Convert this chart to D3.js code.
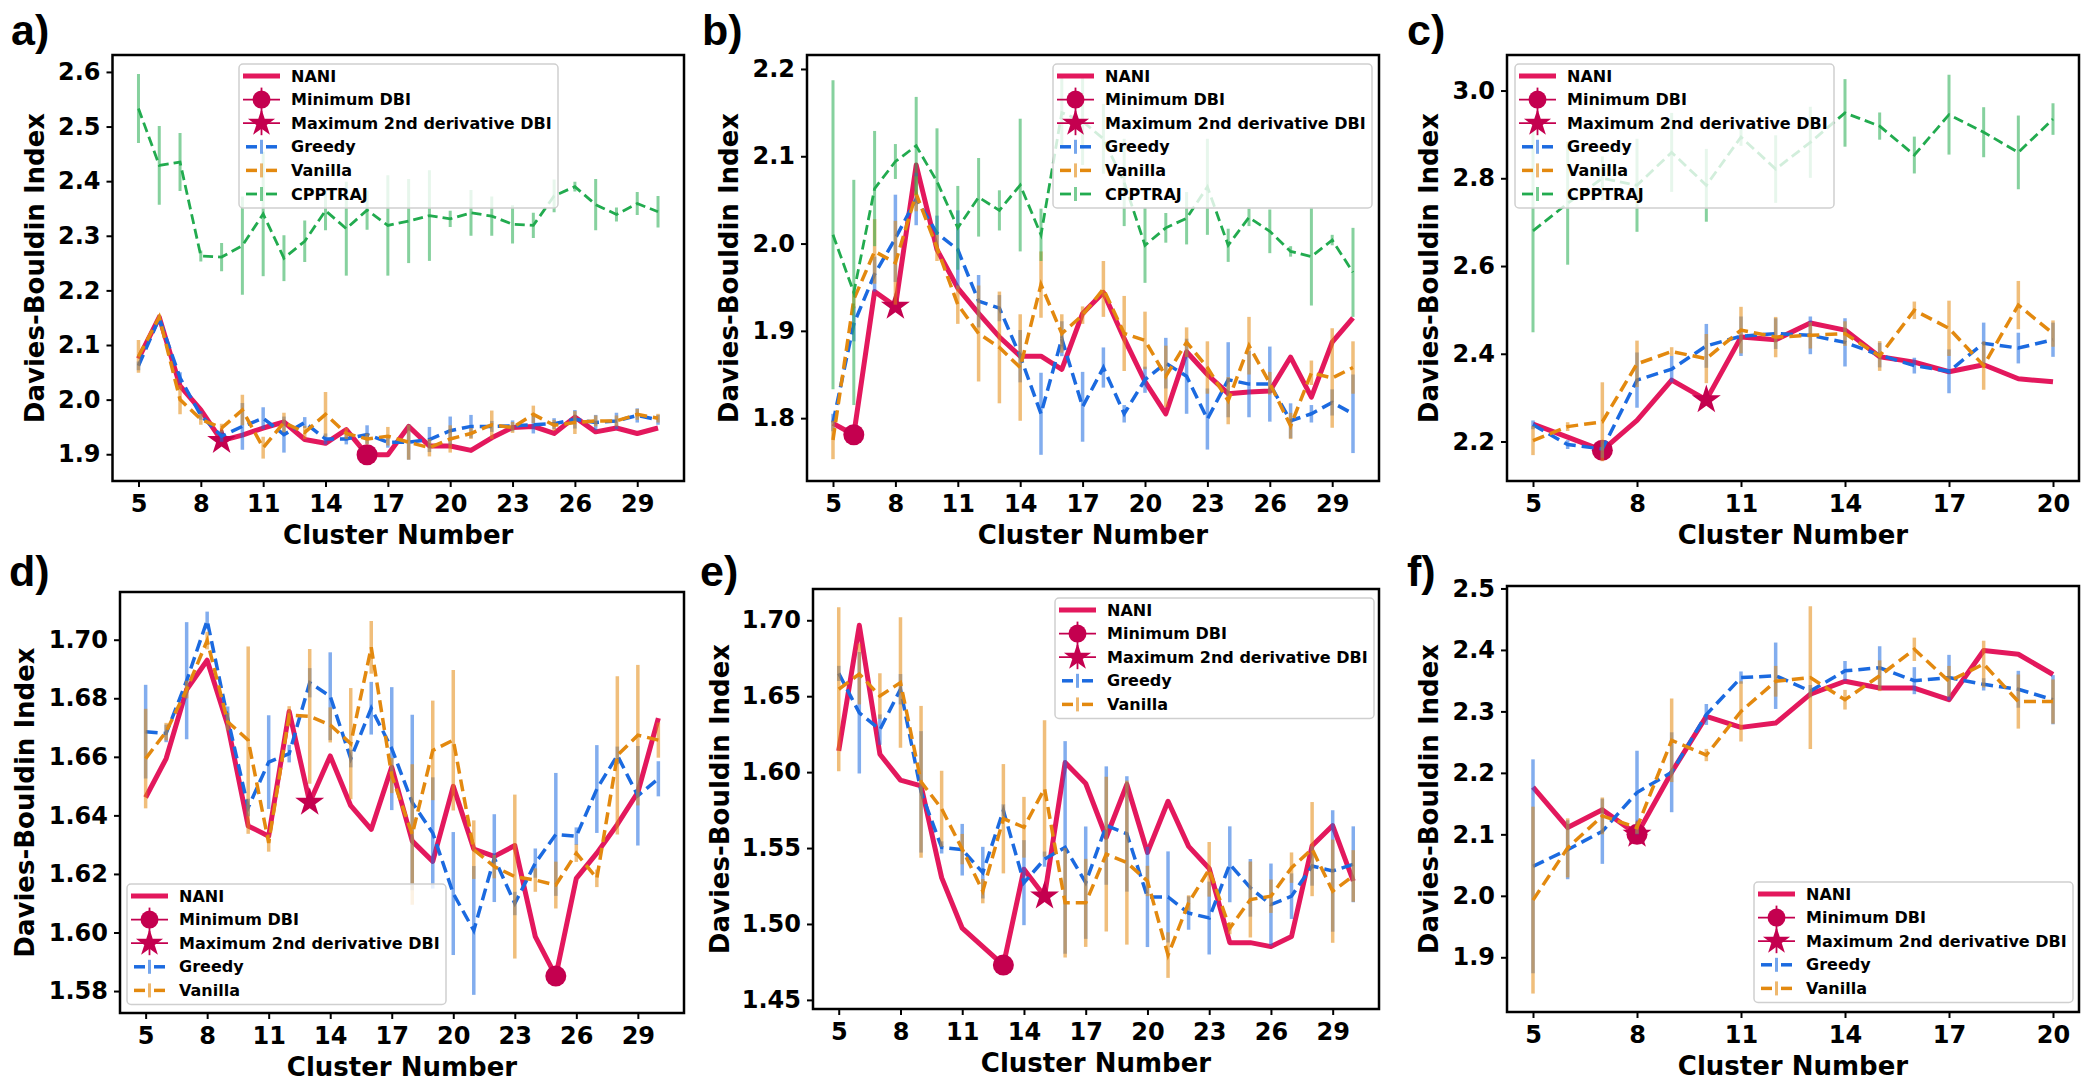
<!DOCTYPE html>
<html><head><meta charset="utf-8">
<script src="https://cdn.jsdelivr.net/npm/d3@7"></script>
<style>body{margin:0;background:#fff}svg{display:block}</style>
</head><body><svg id="chart" width="2100" height="1088"></svg>
<script>
// ---------- categories & tick labels ----------
const clusters30 = [5,6,7,8,9,10,11,12,13,14,15,16,17,18,19,20,21,22,23,24,25,26,27,28,29,30];
const clusters20 = [5,6,7,8,9,10,11,12,13,14,15,16,17,18,19,20];
const xTicks30 = [5,8,11,14,17,20,23,26,29];
const xTicks20 = [5,8,11,14,17,20];
const yTicksA = [1.9,2.0,2.1,2.2,2.3,2.4,2.5,2.6];
const yTicksB = [1.8,1.9,2.0,2.1,2.2];
const yTicksC = [2.2,2.4,2.6,2.8,3.0];
const yTicksD = [1.58,1.60,1.62,1.64,1.66,1.68,1.70];
const yTicksE = [1.45,1.50,1.55,1.60,1.65,1.70];
const yTicksF = [1.9,2.0,2.1,2.2,2.3,2.4,2.5];
const panelLabels = ["a)","b)","c)","d)","e)","f)"];
const seriesNames = ["NANI","Minimum DBI","Maximum 2nd derivative DBI","Greedy","Vanilla","CPPTRAJ"];
const minClusters = [16,6,7,25,13,8];
const starClusters = [9,8,10,13,15,8];

// ---------- panel a ----------
const naniA = [2.075,2.151,2.025,1.981,1.925,1.935,1.948,1.959,1.927,1.920,1.945,1.899,1.899,1.951,1.915,1.915,1.907,1.930,1.949,1.951,1.938,1.968,1.941,1.948,1.938,1.948];
const greedyA = [2.062,2.149,2.040,1.971,1.933,1.951,1.966,1.936,1.958,1.928,1.928,1.936,1.922,1.922,1.927,1.943,1.951,1.951,1.952,1.954,1.956,1.964,1.958,1.961,1.971,1.963];
const greedyErrA = [0.008,0.005,0.010,0.008,0.010,0.043,0.020,0.033,0.010,0.010,0.010,0.017,0.010,0.032,0.023,0.026,0.021,0.010,0.010,0.016,0.010,0.017,0.014,0.015,0.013,0.009];
const vanillaA = [2.079,2.151,2.000,1.964,1.948,1.981,1.912,1.958,1.940,1.973,1.938,1.928,1.933,1.922,1.912,1.928,1.938,1.954,1.949,1.973,1.953,1.958,1.961,1.961,1.973,1.966];
const vanillaErrA = [0.030,0.005,0.027,0.010,0.008,0.028,0.020,0.018,0.012,0.041,0.010,0.010,0.017,0.032,0.016,0.025,0.010,0.026,0.010,0.016,0.010,0.021,0.010,0.010,0.010,0.008];
const cppA = [2.533,2.429,2.435,2.263,2.261,2.282,2.340,2.259,2.290,2.346,2.313,2.347,2.319,2.327,2.337,2.331,2.342,2.336,2.321,2.319,2.373,2.390,2.357,2.339,2.359,2.344];
const cppErrA = [0.063,0.072,0.053,0.010,0.026,0.090,0.114,0.042,0.038,0.036,0.086,0.036,0.092,0.077,0.083,0.015,0.042,0.036,0.035,0.023,0.030,0.009,0.047,0.013,0.021,0.029];

// ---------- panel b ----------
const naniB = [1.794,1.781,1.945,1.928,2.090,1.993,1.949,1.920,1.893,1.871,1.871,1.856,1.920,1.944,1.891,1.842,1.805,1.876,1.850,1.828,1.830,1.831,1.870,1.824,1.887,1.915];
const greedyB = [1.795,1.908,1.965,2.006,2.051,2.012,1.993,1.934,1.926,1.871,1.805,1.891,1.813,1.858,1.805,1.844,1.863,1.848,1.799,1.844,1.839,1.839,1.797,1.805,1.818,1.805];
const greedyErrB = [0.010,0.020,0.020,0.050,0.030,0.020,0.045,0.030,0.015,0.030,0.047,0.020,0.040,0.023,0.010,0.015,0.029,0.043,0.035,0.043,0.038,0.043,0.020,0.010,0.015,0.045];
const vanillaB = [1.775,1.936,1.991,1.978,2.057,1.995,1.930,1.897,1.881,1.858,1.953,1.897,1.918,1.948,1.897,1.889,1.848,1.887,1.858,1.820,1.883,1.840,1.791,1.852,1.846,1.858];
const vanillaErrB = [0.022,0.010,0.037,0.048,0.020,0.015,0.022,0.055,0.064,0.061,0.038,0.022,0.010,0.032,0.043,0.033,0.035,0.017,0.030,0.027,0.033,0.013,0.015,0.014,0.057,0.030];
const cppB = [2.010,1.944,2.063,2.094,2.112,2.071,2.018,2.053,2.038,2.067,2.010,2.150,2.140,2.120,2.070,1.998,2.018,2.029,2.065,1.998,2.030,2.014,1.991,1.985,2.004,1.967];
const cppErrB = [0.177,0.129,0.066,0.020,0.056,0.061,0.048,0.045,0.023,0.076,0.030,0.040,0.050,0.040,0.050,0.043,0.017,0.030,0.055,0.019,0.010,0.025,0.006,0.056,0.006,0.051];

// ---------- panel c ----------
const naniC = [2.240,2.210,2.180,2.248,2.340,2.295,2.438,2.432,2.470,2.454,2.393,2.381,2.359,2.375,2.343,2.336];
const greedyC = [2.238,2.193,2.183,2.340,2.365,2.418,2.440,2.446,2.442,2.426,2.397,2.373,2.360,2.424,2.413,2.432];
const greedyErrC = [0.010,0.010,0.020,0.063,0.030,0.050,0.045,0.035,0.043,0.055,0.028,0.018,0.050,0.047,0.035,0.039];
const vanillaC = [2.202,2.234,2.245,2.377,2.405,2.389,2.454,2.438,2.442,2.446,2.395,2.499,2.458,2.373,2.511,2.446];
const vanillaErrC = [0.033,0.010,0.090,0.053,0.010,0.056,0.053,0.046,0.030,0.028,0.034,0.020,0.063,0.055,0.055,0.030];
const cppC = [2.680,2.743,2.800,2.784,2.859,2.784,2.894,2.821,2.882,2.949,2.919,2.853,2.945,2.905,2.859,2.935];
const cppErrC = [0.231,0.140,0.050,0.106,0.090,0.083,0.020,0.077,0.081,0.077,0.031,0.042,0.091,0.057,0.084,0.036];

// ---------- panel d ----------
const naniD = [1.6461,1.6594,1.6830,1.6930,1.6709,1.6364,1.6329,1.6755,1.6444,1.6603,1.6433,1.6352,1.6565,1.6312,1.6243,1.6499,1.6285,1.6260,1.6297,1.5986,1.5851,1.6185,1.6271,1.6369,1.6479,1.6732];
const greedyD = [1.6686,1.6680,1.6860,1.7066,1.6732,1.6427,1.6582,1.6611,1.6853,1.6807,1.6594,1.6766,1.6628,1.6444,1.6340,1.6133,1.6007,1.6254,1.6099,1.6237,1.6335,1.6329,1.6490,1.6605,1.6467,1.6525];
const greedyErrD = [0.016,0.003,0.020,0.003,0.004,0.003,0.016,0.003,0.005,0.015,0.003,0.009,0.021,0.030,0.019,0.021,0.022,0.015,0.004,0.005,0.021,0.003,0.015,0.003,0.017,0.006];
const vanillaD = [1.6594,1.6686,1.6830,1.6997,1.6720,1.6657,1.6306,1.6743,1.6738,1.6709,1.6645,1.6974,1.6536,1.6335,1.6622,1.6657,1.6283,1.6225,1.6191,1.6179,1.6162,1.6271,1.6185,1.6605,1.6674,1.6657];
const vanillaErrD = [0.017,0.003,0.003,0.003,0.003,0.032,0.003,0.003,0.023,0.006,0.019,0.009,0.006,0.024,0.017,0.024,0.010,0.004,0.028,0.004,0.008,0.003,0.003,0.027,0.024,0.006];

// ---------- panel e ----------
const naniE = [1.6140,1.6967,1.6118,1.5947,1.5910,1.5305,1.4972,1.4851,1.4729,1.5360,1.5183,1.6063,1.5925,1.5571,1.5919,1.5471,1.5808,1.5511,1.5365,1.4877,1.4877,1.4851,1.4917,1.5515,1.5648,1.5283];
const greedyE = [1.6650,1.6391,1.6280,1.6546,1.5870,1.5504,1.5489,1.5338,1.5748,1.5272,1.5427,1.5504,1.5272,1.5648,1.5593,1.5178,1.5178,1.5072,1.5039,1.5393,1.5238,1.5128,1.5183,1.5382,1.5349,1.5393];
const greedyErrE = [0.005,0.040,0.010,0.010,0.040,0.004,0.017,0.017,0.004,0.028,0.005,0.070,0.037,0.039,0.038,0.033,0.030,0.011,0.024,0.025,0.019,0.027,0.015,0.013,0.040,0.025];
const vanillaE = [1.6546,1.6646,1.6501,1.6590,1.5936,1.5759,1.5493,1.5216,1.5693,1.5637,1.5892,1.5139,1.5139,1.5460,1.5404,1.5283,1.4795,1.5139,1.5360,1.4972,1.5161,1.5183,1.5371,1.5493,1.5216,1.5316];
const vanillaErrE = [0.054,0.020,0.015,0.043,0.050,0.025,0.010,0.008,0.036,0.020,0.045,0.036,0.029,0.051,0.054,0.010,0.015,0.005,0.018,0.004,0.025,0.011,0.010,0.031,0.034,0.017];

// ---------- panel f ----------
const naniF = [2.177,2.111,2.140,2.100,2.201,2.292,2.274,2.281,2.328,2.349,2.338,2.338,2.319,2.399,2.393,2.360];
const greedyF = [2.048,2.075,2.105,2.168,2.201,2.295,2.355,2.358,2.333,2.366,2.371,2.350,2.355,2.344,2.336,2.319];
const greedyErrF = [0.174,0.048,0.053,0.068,0.065,0.017,0.010,0.054,0.010,0.016,0.035,0.022,0.037,0.010,0.030,0.040];
const vanillaF = [1.993,2.078,2.130,2.111,2.253,2.229,2.300,2.349,2.355,2.319,2.358,2.401,2.349,2.377,2.316,2.316];
const vanillaErrF = [0.152,0.048,0.030,0.010,0.068,0.010,0.049,0.025,0.116,0.016,0.025,0.019,0.025,0.038,0.044,0.036];

// ---------- styles ----------
const C_NANI = "#e3185d", C_MARK = "#c4004f", C_GREEDY = "#1b6ae0", C_VAN = "#e3890f", C_CPP = "#22ab4f";
const FONT = "'DejaVu Sans', sans-serif";

// ---------- panel layout (built from the arrays above) ----------
const panels = [
  {label:panelLabels[0], xs:clusters30, xt:xTicks30, xDom:[3.75,31.25], yt:yTicksA, fmt:".1f", yDom:[1.851,2.631],
   nani:naniA, greedy:greedyA, gErr:greedyErrA, van:vanillaA, vErr:vanillaErrA, cpp:cppA, cErr:cppErrA,
   frame:[112.5,55,684,481], leg:[239,64], lab:[11,45], ytOff:78},
  {label:panelLabels[1], xs:clusters30, xt:xTicks30, xDom:[3.75,31.25], yt:yTicksB, fmt:".1f", yDom:[1.728,2.216],
   nani:naniB, greedy:greedyB, gErr:greedyErrB, van:vanillaB, vErr:vanillaErrB, cpp:cppB, cErr:cppErrB,
   frame:[807,55,1379,481], leg:[1053,64], lab:[702,45], ytOff:78},
  {label:panelLabels[2], xs:clusters20, xt:xTicks20, xDom:[4.25,20.75], yt:yTicksC, fmt:".1f", yDom:[2.110,3.081],
   nani:naniC, greedy:greedyC, gErr:greedyErrC, van:vanillaC, vErr:vanillaErrC, cpp:cppC, cErr:cppErrC,
   frame:[1507,55,2079,481], leg:[1515,64], lab:[1407,45], ytOff:78},
  {label:panelLabels[3], xs:clusters30, xt:xTicks30, xDom:[3.75,31.25], yt:yTicksD, fmt:".2f", yDom:[1.5725,1.7163],
   nani:naniD, greedy:greedyD, gErr:greedyErrD, van:vanillaD, vErr:vanillaErrD, cpp:null, cErr:null,
   frame:[120,592,684,1013], leg:[127,884], lab:[9,586], ytOff:95},
  {label:panelLabels[4], xs:clusters30, xt:xTicks30, xDom:[3.75,31.25], yt:yTicksE, fmt:".2f", yDom:[1.444,1.7206],
   nani:naniE, greedy:greedyE, gErr:greedyErrE, van:vanillaE, vErr:vanillaErrE, cpp:null, cErr:null,
   frame:[813,589,1379,1009], leg:[1055,598], lab:[700,586], ytOff:93},
  {label:panelLabels[5], xs:clusters20, xt:xTicks20, xDom:[4.25,20.75], yt:yTicksF, fmt:".1f", yDom:[1.811,2.504],
   nani:naniF, greedy:greedyF, gErr:greedyErrF, van:vanillaF, vErr:vanillaErrF, cpp:null, cErr:null,
   frame:[1507,586,2079,1012], leg:[1754,882], lab:[1407,586], ytOff:78}
];

const svg = d3.select("#chart");
svg.append("rect").attr("width",2100).attr("height",1088).attr("fill","#fff");

panels.forEach((p, pi) => {
  const [x0,y0,x1,y1] = p.frame;
  const g = svg.append("g");
  const x = d3.scaleLinear().domain(p.xDom).range([x0,x1]);
  const y = d3.scaleLinear().domain(p.yDom).range([y1,y0]);
  const clipId = "clip" + pi;
  g.append("clipPath").attr("id",clipId).append("rect")
    .attr("x",x0).attr("y",y0).attr("width",x1-x0).attr("height",y1-y0);

  // axes
  const ax = g.append("g").attr("transform",`translate(0,${y1})`)
    .call(d3.axisBottom(x).tickValues(p.xt).tickFormat(d3.format("d")).tickSize(6).tickPadding(8));
  const ay = g.append("g").attr("transform",`translate(${x0},0)`)
    .call(d3.axisLeft(y).tickValues(p.yt).tickFormat(d3.format(p.fmt)).tickSize(6).tickPadding(6));
  [ax, ay].forEach(a => {
    a.select(".domain").remove();
    a.selectAll(".tick line").attr("stroke","#000").attr("stroke-width",2);
    a.selectAll(".tick text").attr("font-family",FONT).attr("font-weight","bold")
      .attr("font-size",24).attr("fill","#000");
  });

  // titles
  g.append("text").attr("x",(x0+x1)/2).attr("y",y1+54).attr("dy","0.35em")
    .attr("text-anchor","middle").attr("font-family",FONT).attr("font-weight","bold")
    .attr("font-size",26).text("Cluster Number");
  g.append("text").attr("transform",`translate(${x0-p.ytOff},${(y0+y1)/2}) rotate(-90)`)
    .attr("dy","0.35em").attr("text-anchor","middle").attr("font-family",FONT)
    .attr("font-weight","bold").attr("font-size",26).text("Davies-Bouldin Index");
  g.append("text").attr("x",p.lab[0]).attr("y",p.lab[1]).attr("font-family","'Liberation Sans', Arial, sans-serif")
    .attr("font-weight","bold").attr("font-size",43).text(p.label);

  const plot = g.append("g").attr("clip-path",`url(#${clipId})`);
  const line = d3.line().x(d => x(d[0])).y(d => y(d[1]));

  // NANI
  plot.append("path").datum(p.xs.map((c,i) => [c, p.nani[i]])).attr("d",line)
    .attr("fill","none").attr("stroke",C_NANI).attr("stroke-width",5).attr("stroke-linejoin","round");
  // markers (star first, circle on top)
  const si = p.xs.indexOf(starClusters[pi]);
  plot.append("path").attr("d",d3.symbol().type(d3.symbolStar).size(260)())
    .attr("transform",`translate(${x(starClusters[pi])},${y(p.nani[si])})`).attr("fill",C_MARK);
  const mi = p.xs.indexOf(minClusters[pi]);
  plot.append("circle").attr("cx",x(minClusters[pi])).attr("cy",y(p.nani[mi])).attr("r",10.5).attr("fill",C_MARK);

  function errSeries(vals, errs, color, lw, dash, ew) {
    const pts = p.xs.map((c,i) => ({c, v:vals[i], e:errs[i]}));
    plot.append("g").selectAll("line").data(pts).join("line")
      .attr("x1",d => x(d.c)).attr("x2",d => x(d.c))
      .attr("y1",d => y(d.v - d.e)).attr("y2",d => y(d.v + d.e))
      .attr("stroke",color).attr("stroke-width",ew).attr("stroke-opacity",0.55);
    plot.append("path").datum(pts.map(d => [d.c, d.v])).attr("d",line)
      .attr("fill","none").attr("stroke",color).attr("stroke-width",lw).attr("stroke-dasharray",dash);
  }
  errSeries(p.greedy, p.gErr, C_GREEDY, 3.5, "12,6", 3.5);
  errSeries(p.van, p.vErr, C_VAN, 3.5, "12,6", 3.5);
  if (p.cpp) errSeries(p.cpp, p.cErr, C_CPP, 2.8, "10,5", 3);

  // legend
  const entries = p.cpp ? seriesNames : seriesNames.slice(0,5);
  const [lx, ly] = p.leg;
  const rowH = 23.6;
  const lw = 319, lh = 26 + rowH*(entries.length-1);
  const L = g.append("g");
  L.append("rect").attr("x",lx).attr("y",ly).attr("width",lw).attr("height",lh).attr("rx",4)
    .attr("fill","#fff").attr("fill-opacity",0.8).attr("stroke","#cfcfcf").attr("stroke-width",1.5);
  entries.forEach((name, k) => {
    const cy = ly + 12 + k*rowH, hx0 = lx + 4, hx1 = lx + 41, cx = lx + 22.5;
    if (k === 0) {
      L.append("line").attr("x1",hx0).attr("x2",hx1).attr("y1",cy).attr("y2",cy)
        .attr("stroke",C_NANI).attr("stroke-width",5);
    } else if (k === 1 || k === 2) {
      L.append("line").attr("x1",hx0).attr("x2",hx1).attr("y1",cy).attr("y2",cy)
        .attr("stroke",C_MARK).attr("stroke-width",1.8);
      L.append("line").attr("x1",cx).attr("x2",cx).attr("y1",cy-12).attr("y2",cy+12)
        .attr("stroke",C_MARK).attr("stroke-width",1.8);
      if (k === 1) L.append("circle").attr("cx",cx).attr("cy",cy).attr("r",9).attr("fill",C_MARK);
      else L.append("path").attr("d",d3.symbol().type(d3.symbolStar).size(230)())
        .attr("transform",`translate(${cx},${cy})`).attr("fill",C_MARK);
    } else {
      const col = [C_GREEDY, C_VAN, C_CPP][k-3];
      const w = k === 5 ? 2.8 : 3.5;
      [[lx+7,lx+18],[lx+27,lx+38]].forEach(s => L.append("line").attr("x1",s[0]).attr("x2",s[1])
        .attr("y1",cy).attr("y2",cy).attr("stroke",col).attr("stroke-width",w));
      L.append("line").attr("x1",cx).attr("x2",cx).attr("y1",cy-7).attr("y2",cy+7)
        .attr("stroke",col).attr("stroke-width",3).attr("stroke-opacity",0.6);
    }
    L.append("text").attr("x",lx+52).attr("y",cy).attr("dy","0.35em").attr("font-family",FONT)
      .attr("font-weight","bold").attr("font-size",16).attr("fill","#000").text(name);
  });

  // frame
  g.append("rect").attr("x",x0).attr("y",y0).attr("width",x1-x0).attr("height",y1-y0)
    .attr("fill","none").attr("stroke","#000").attr("stroke-width",2.5);
});
</script>
</body></html>
